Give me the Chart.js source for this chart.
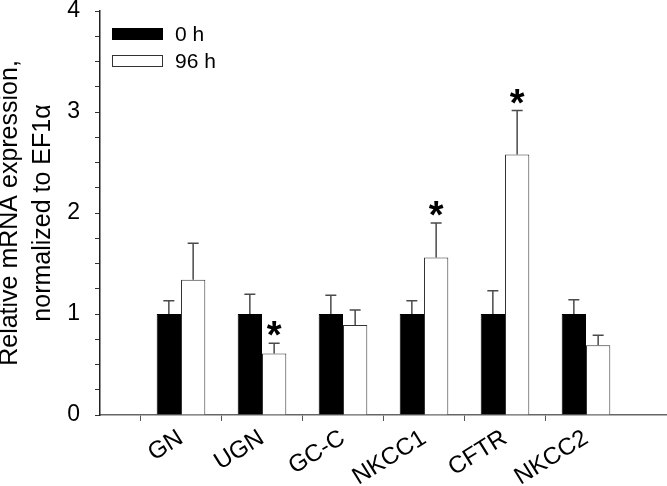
<!DOCTYPE html>
<html>
<head>
<meta charset="utf-8">
<script src="https://cdn.jsdelivr.net/npm/chart.js@4/dist/chart.umd.min.js"></script>
<style>
  html, body { margin: 0; padding: 0; background: #fff; }
  #wrap { width: 667px; height: 486px; }
</style>
</head>
<body>
<div id="wrap"><canvas id="c" width="667" height="486"></canvas></div>
<script>
const categories = ['GN', 'UGN', 'GC-C', 'NKCC1', 'CFTR', 'NKCC2'];
const seriesNames = ['0 h', '96 h'];
const values0h = [1.00, 1.00, 1.00, 1.00, 1.00, 1.00];
const values96h = [1.34, 0.61, 0.89, 1.56, 2.58, 0.69];
const err0h = [0.13, 0.195, 0.185, 0.13, 0.23, 0.14];
const err96h = [0.36, 0.10, 0.15, 0.34, 0.435, 0.10];
const significant96h = [false, true, false, true, true, false];
const yTickLabels = [0, 1, 2, 3, 4];
const yTitle = ['Relative mRNA expression,', 'normalized to EF1\u03B1'];

const FONT = "'Liberation Sans', Arial, sans-serif";

// padded categories (empty slot at each end so the axis spans beyond the groups)
const labels = [''].concat(categories, ['']);
const pad = arr => [null].concat(arr, [null]);
const errs = [pad(err0h), pad(err96h)];
const sig = [pad(categories.map(() => false)), pad(significant96h)];

const errorBars = {
  id: 'errorBars',
  afterDatasetsDraw(chart) {
    const ctx = chart.ctx;
    const ys = chart.scales.y;
    ctx.save();
    chart.data.datasets.forEach((ds, di) => {
      const meta = chart.getDatasetMeta(di);
      meta.data.forEach((bar, i) => {
        const v = ds.data[i];
        const e = errs[di][i];
        if (v == null || e == null) return;
        const yTop = ys.getPixelForValue(v + e);
        ctx.strokeStyle = '#4a4a4a';
        ctx.lineWidth = 1.5;
        ctx.beginPath();
        ctx.moveTo(bar.x, bar.y);
        ctx.lineTo(bar.x, yTop);
        ctx.moveTo(bar.x - 5.5, yTop);
        ctx.lineTo(bar.x + 5.5, yTop);
        ctx.stroke();
        if (sig[di][i]) {
          ctx.fillStyle = '#000';
          ctx.font = 'bold 38px ' + FONT;
          ctx.textAlign = 'center';
          ctx.textBaseline = 'alphabetic';
          ctx.fillText('*', bar.x, yTop - 13 + 0.58 * 38 - 4);
        }
      });
    });
    ctx.restore();
  }
};

const customLegend = {
  id: 'customLegend',
  afterDraw(chart) {
    const ctx = chart.ctx;
    const a = chart.chartArea;
    ctx.save();
    chart.data.datasets.forEach((ds, di) => {
      const x = a.left + 12.5;
      const y = a.top + 17.5 + di * 27;
      ctx.fillStyle = ds.backgroundColor;
      ctx.fillRect(x, y, 50, 11);
      ctx.strokeStyle = ds.borderColor;
      ctx.lineWidth = 1;
      ctx.strokeRect(x, y, 50, 11);
      ctx.fillStyle = '#000';
      ctx.font = '21px ' + FONT;
      ctx.textAlign = 'left';
      ctx.textBaseline = 'middle';
      ctx.fillText(ds.label, a.left + 75, y + 6.5);
    });
    ctx.restore();
  }
};

new Chart(document.getElementById('c'), {
  type: 'bar',
  data: {
    labels: labels,
    datasets: [
      { label: seriesNames[0], data: pad(values0h), backgroundColor: '#000', borderColor: '#000', borderWidth: 1 },
      { label: seriesNames[1], data: pad(values96h), backgroundColor: '#fff', borderColor: '#333', borderWidth: 1 }
    ]
  },
  options: {
    responsive: false,
    animation: false,
    devicePixelRatio: 1,
    layout: { padding: { top: 11, right: 0, left: 0, bottom: 0 } },
    datasets: { bar: { categoryPercentage: 0.6, barPercentage: 1.0 } },
    plugins: { legend: { display: false }, tooltip: { enabled: false } },
    scales: {
      x: {
        type: 'category',
        offset: false,
        border: { display: true, color: '#666', width: 1.5 },
        grid: {
          drawOnChartArea: false,
          drawTicks: true,
          tickLength: 6,
          color: ctx => (ctx.index === 0 || ctx.index === labels.length - 1) ? 'rgba(0,0,0,0)' : '#555'
        },
        ticks: {
          autoSkip: false,
          minRotation: 32,
          maxRotation: 32,
          padding: 3,
          color: '#000',
          font: { family: FONT, size: 24 }
        },
        afterFit(s) { s.height = 71; s.paddingLeft = 0; s.paddingRight = 0; }
      },
      y: {
        min: 0,
        max: 4,
        border: { display: true, color: '#222', width: 1.5 },
        grid: { drawOnChartArea: false, drawTicks: true, tickLength: 5, color: '#333' },
        ticks: {
          stepSize: 0.25,
          autoSkip: false,
          padding: 15,
          color: '#000',
          font: { family: FONT, size: 23 },
          callback: v => (yTickLabels.includes(v) ? String(v) : '')
        },
        title: {
          display: true,
          text: yTitle,
          color: '#000',
          font: { family: FONT, size: 25, lineHeight: 1.32 },
          padding: { top: -6, bottom: 0 }
        },
        afterFit(s) { s.width = 100; s.paddingTop = 0; s.paddingBottom = 0; }
      }
    }
  },
  plugins: [errorBars, customLegend]
});
</script>
</body>
</html>
